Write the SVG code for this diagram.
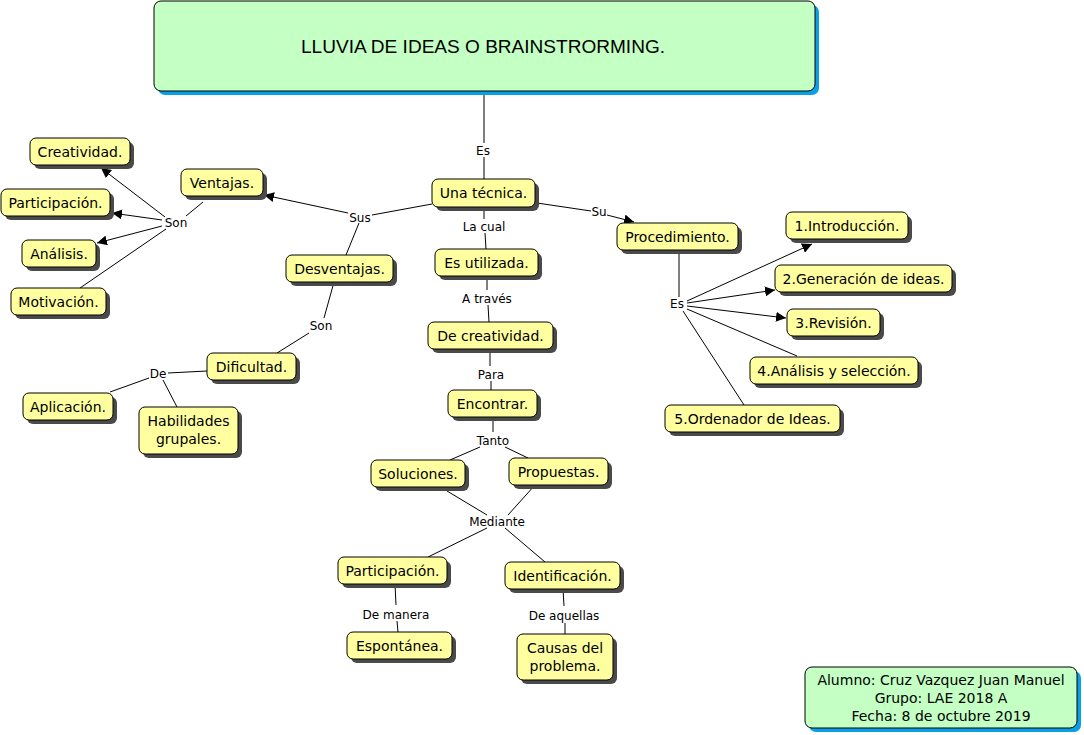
<svg xmlns="http://www.w3.org/2000/svg" width="1084" height="735" viewBox="0 0 1084 735">
<defs>
<marker id="ah" viewBox="0 0 10 10" refX="10" refY="5" markerWidth="10" markerHeight="10" markerUnits="userSpaceOnUse" orient="auto">
<path d="M0,0 L10,5 L0,10 z" fill="#000"/>
</marker>
</defs>
<style>
.n rect.b{fill:#ffffa0;stroke:#000;stroke-width:1}
.n rect.s{fill:#4a4a4a}
.g rect.b{fill:#c4ffc4;stroke:#000;stroke-width:1}
.g rect.s{fill:#0aa0e6}
text{font-family:"DejaVu Sans",Verdana,sans-serif;fill:#000}
.t{font-size:14px;text-anchor:middle}
.l{font-size:12px;text-anchor:middle}
.h{font-family:"Liberation Sans",Arial,sans-serif;font-size:18px;text-anchor:middle}
#links line{stroke:#000;stroke-width:1}
#links line.a{marker-end:url(#ah)}
</style>
<rect width="1084" height="735" fill="#fff"/>

<g id="links">
<line x1="484" y1="91" x2="484" y2="143"/>
<line x1="484" y1="157" x2="484" y2="179"/>
<line x1="432" y1="204" x2="372" y2="215"/>
<line class="a" x1="348" y1="213" x2="264" y2="195"/>
<line x1="359" y1="223" x2="346" y2="255"/>
<line x1="334" y1="282" x2="324" y2="318"/>
<line x1="309" y1="333" x2="277" y2="353"/>
<line x1="207" y1="371" x2="168" y2="373"/>
<line x1="149" y1="378" x2="110" y2="392"/>
<line x1="163" y1="380" x2="177" y2="407"/>
<line x1="203" y1="202" x2="186" y2="216"/>
<line class="a" x1="165" y1="217" x2="101" y2="168"/>
<line class="a" x1="162" y1="220" x2="112" y2="213"/>
<line class="a" x1="162" y1="226" x2="97" y2="243"/>
<line x1="166" y1="229" x2="80" y2="288"/>
<line x1="484" y1="207" x2="484" y2="219"/>
<line x1="485" y1="233" x2="486" y2="249"/>
<line x1="487" y1="276" x2="487" y2="290"/>
<line x1="488" y1="305" x2="489" y2="322"/>
<line x1="490" y1="349" x2="490" y2="366"/>
<line x1="491" y1="381" x2="491" y2="390"/>
<line x1="493" y1="417" x2="493" y2="432"/>
<line x1="480" y1="447" x2="450" y2="460"/>
<line x1="505" y1="447" x2="528" y2="458"/>
<line x1="447" y1="491" x2="487" y2="515"/>
<line x1="535" y1="485" x2="508" y2="515"/>
<line x1="487" y1="528" x2="428" y2="557"/>
<line x1="505" y1="528" x2="545" y2="562"/>
<line x1="395" y1="584" x2="396" y2="605"/>
<line x1="397" y1="621" x2="398" y2="632"/>
<line x1="563" y1="589" x2="564" y2="606"/>
<line x1="565" y1="623" x2="565" y2="634"/>
<line x1="537" y1="203" x2="591" y2="211"/>
<line class="a" x1="607" y1="215" x2="634" y2="222"/>
<line x1="679" y1="250" x2="679" y2="297"/>
<line class="a" x1="687" y1="301" x2="812" y2="244"/>
<line class="a" x1="687" y1="303" x2="775" y2="290"/>
<line class="a" x1="687" y1="306" x2="786" y2="318"/>
<line x1="687" y1="309" x2="797" y2="356"/>
<line x1="683" y1="311" x2="744" y2="405"/>
</g>

<g id="linkLabels">
<text class="l" x="483" y="155">Es</text>
<text class="l" x="360" y="222">Sus</text>
<text class="l" x="176" y="227">Son</text>
<text class="l" x="321" y="330">Son</text>
<text class="l" x="158" y="378">De</text>
<text class="l" x="484" y="231">La cual</text>
<text class="l" x="487" y="303">A través</text>
<text class="l" x="491" y="379">Para</text>
<text class="l" x="493" y="445">Tanto</text>
<text class="l" x="497" y="526">Mediante</text>
<text class="l" x="396" y="619">De manera</text>
<text class="l" x="564" y="620">De aquellas</text>
<text class="l" x="599" y="216">Su</text>
<text class="l" x="677" y="308">Es</text>
</g>

<g id="title" class="g">
<rect class="s" x="158" y="5" width="661" height="90" rx="7"/>
<rect class="b" x="154" y="1" width="661" height="90" rx="7"/>
<text class="h" x="483" y="53" textLength="364" lengthAdjust="spacingAndGlyphs">LLUVIA DE IDEAS O BRAINSTRORMING.</text>
</g>

<g id="unaTecnica" class="n">
<rect class="s" x="436" y="183" width="103" height="28" rx="6"/>
<rect class="b" x="432" y="179" width="103" height="28" rx="6"/>
<text class="t" x="483.5" y="198">Una técnica.</text>
</g>

<g id="ventajas" class="n">
<rect class="s" x="185" y="173" width="82" height="27" rx="6"/>
<rect class="b" x="181" y="169" width="82" height="27" rx="6"/>
<text class="t" x="222" y="188">Ventajas.</text>
</g>

<g id="creatividad" class="n">
<rect class="s" x="34" y="142" width="100" height="27" rx="6"/>
<rect class="b" x="30" y="138" width="100" height="27" rx="6"/>
<text class="t" x="80" y="157">Creatividad.</text>
</g>

<g id="participacion1" class="n">
<rect class="s" x="5" y="193" width="109" height="27" rx="6"/>
<rect class="b" x="1" y="189" width="109" height="27" rx="6"/>
<text class="t" x="55.5" y="208">Participación.</text>
</g>

<g id="analisis" class="n">
<rect class="s" x="26" y="244" width="74" height="27" rx="6"/>
<rect class="b" x="22" y="240" width="74" height="27" rx="6"/>
<text class="t" x="59" y="259">Análisis.</text>
</g>

<g id="motivacion" class="n">
<rect class="s" x="15" y="292" width="95" height="27" rx="6"/>
<rect class="b" x="11" y="288" width="95" height="27" rx="6"/>
<text class="t" x="58.5" y="307">Motivación.</text>
</g>

<g id="desventajas" class="n">
<rect class="s" x="290" y="259" width="107" height="27" rx="6"/>
<rect class="b" x="286" y="255" width="107" height="27" rx="6"/>
<text class="t" x="339.5" y="274">Desventajas.</text>
</g>

<g id="dificultad" class="n">
<rect class="s" x="211" y="357" width="89" height="27" rx="6"/>
<rect class="b" x="207" y="353" width="89" height="27" rx="6"/>
<text class="t" x="251.5" y="372">Dificultad.</text>
</g>

<g id="aplicacion" class="n">
<rect class="s" x="27" y="397" width="90" height="27" rx="6"/>
<rect class="b" x="23" y="393" width="90" height="27" rx="6"/>
<text class="t" x="68" y="412">Aplicación.</text>
</g>

<g id="habilidades" class="n">
<rect class="s" x="143" y="411" width="99" height="47" rx="6"/>
<rect class="b" x="139" y="407" width="99" height="47" rx="6"/>
<text class="t" x="188.5" y="426">Habilidades</text>
<text class="t" x="188.5" y="444">grupales.</text>
</g>

<g id="esUtilizada" class="n">
<rect class="s" x="439" y="253" width="103" height="27" rx="6"/>
<rect class="b" x="435" y="249" width="103" height="27" rx="6"/>
<text class="t" x="486.5" y="268">Es utilizada.</text>
</g>

<g id="deCreatividad" class="n">
<rect class="s" x="432" y="326" width="125" height="27" rx="6"/>
<rect class="b" x="428" y="322" width="125" height="27" rx="6"/>
<text class="t" x="490.5" y="341">De creatividad.</text>
</g>

<g id="encontrar" class="n">
<rect class="s" x="452" y="394" width="89" height="27" rx="6"/>
<rect class="b" x="448" y="390" width="89" height="27" rx="6"/>
<text class="t" x="492.5" y="409">Encontrar.</text>
</g>

<g id="soluciones" class="n">
<rect class="s" x="375" y="464" width="94" height="27" rx="6"/>
<rect class="b" x="371" y="460" width="94" height="27" rx="6"/>
<text class="t" x="418" y="479">Soluciones.</text>
</g>

<g id="propuestas" class="n">
<rect class="s" x="513" y="462" width="99" height="27" rx="6"/>
<rect class="b" x="509" y="458" width="99" height="27" rx="6"/>
<text class="t" x="558.5" y="477">Propuestas.</text>
</g>

<g id="participacion2" class="n">
<rect class="s" x="342" y="561" width="109" height="27" rx="6"/>
<rect class="b" x="338" y="557" width="109" height="27" rx="6"/>
<text class="t" x="392.5" y="576">Participación.</text>
</g>

<g id="identificacion" class="n">
<rect class="s" x="509" y="566" width="115" height="27" rx="6"/>
<rect class="b" x="505" y="562" width="115" height="27" rx="6"/>
<text class="t" x="562.5" y="581">Identificación.</text>
</g>

<g id="espontanea" class="n">
<rect class="s" x="351" y="636" width="105" height="27" rx="6"/>
<rect class="b" x="347" y="632" width="105" height="27" rx="6"/>
<text class="t" x="399.5" y="651">Espontánea.</text>
</g>

<g id="causas" class="n">
<rect class="s" x="521" y="638" width="96" height="46" rx="6"/>
<rect class="b" x="517" y="634" width="96" height="46" rx="6"/>
<text class="t" x="565" y="653">Causas del</text>
<text class="t" x="565" y="671">problema.</text>
</g>

<g id="procedimiento" class="n">
<rect class="s" x="621" y="227" width="121" height="27" rx="6"/>
<rect class="b" x="617" y="223" width="121" height="27" rx="6"/>
<text class="t" x="677.5" y="242">Procedimiento.</text>
</g>

<g id="introduccion" class="n">
<rect class="s" x="790" y="216" width="122" height="27" rx="6"/>
<rect class="b" x="786" y="212" width="122" height="27" rx="6"/>
<text class="t" x="847" y="231">1.Introducción.</text>
</g>

<g id="generacion" class="n">
<rect class="s" x="779" y="269" width="177" height="27" rx="6"/>
<rect class="b" x="775" y="265" width="177" height="27" rx="6"/>
<text class="t" x="863.5" y="284">2.Generación de ideas.</text>
</g>

<g id="revision" class="n">
<rect class="s" x="791" y="313" width="93" height="27" rx="6"/>
<rect class="b" x="787" y="309" width="93" height="27" rx="6"/>
<text class="t" x="833.5" y="328">3.Revisión.</text>
</g>

<g id="seleccion" class="n">
<rect class="s" x="754" y="361" width="168" height="27" rx="6"/>
<rect class="b" x="750" y="357" width="168" height="27" rx="6"/>
<text class="t" x="834" y="376">4.Análisis y selección.</text>
</g>

<g id="ordenador" class="n">
<rect class="s" x="669" y="409" width="175" height="27" rx="6"/>
<rect class="b" x="665" y="405" width="175" height="27" rx="6"/>
<text class="t" x="752.5" y="424">5.Ordenador de Ideas.</text>
</g>

<g id="footer" class="g">
<rect class="s" x="809" y="671" width="272" height="61" rx="7"/>
<rect class="b" x="805" y="667" width="272" height="61" rx="7"/>
<text class="t" x="941" y="685">Alumno: Cruz Vazquez Juan Manuel</text>
<text class="t" x="941" y="703">Grupo: LAE 2018 A</text>
<text class="t" x="941" y="721">Fecha: 8 de octubre 2019</text>
</g>
</svg>
